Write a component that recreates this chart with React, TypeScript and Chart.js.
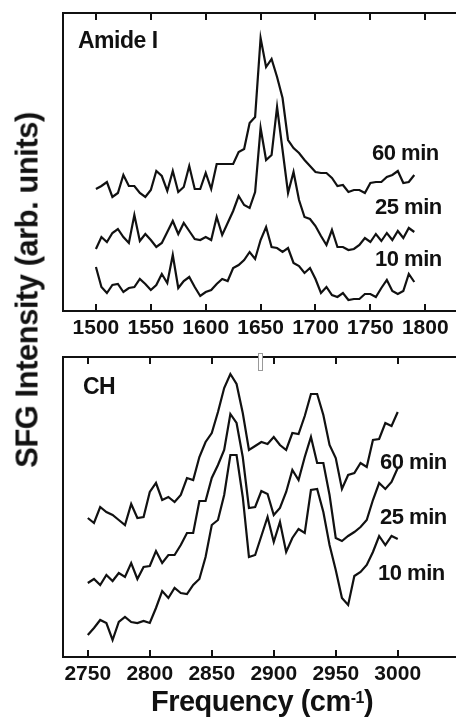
import React, { useEffect, useRef } from "react";
import { Chart, registerables } from "chart.js";

Chart.register(...registerables);

// ---------- data ----------
const AMIDE_FREQ = [
  1500, 1505, 1510, 1515, 1520, 1525, 1530, 1535, 1540, 1545,
  1550, 1555, 1560, 1565, 1570, 1575, 1580, 1585, 1590, 1595,
  1600, 1605, 1610, 1615, 1620, 1625, 1630, 1635, 1640, 1645,
  1650, 1655, 1660, 1665, 1670, 1675, 1680, 1685, 1690, 1695,
  1700, 1705, 1710, 1715, 1720, 1725, 1730, 1735, 1740, 1745,
  1750, 1755, 1760, 1765, 1770, 1775, 1780, 1785, 1790,
];
const AMIDE_60 = [
  122, 125, 129, 114, 118, 136, 125, 125, 118, 114,
  121, 140, 135, 120, 140, 119, 124, 145, 122, 122,
  138, 122, 147, 147, 147, 147, 159, 162, 188, 194,
  273, 244, 252, 234, 213, 171, 163, 158, 151, 145,
  139, 138, 138, 133, 125, 126, 119, 121, 121, 118,
  128, 129, 129, 134, 136, 140, 128, 129, 136,
];
const AMIDE_25 = [
  62, 74, 69, 78, 82, 74, 68, 96, 70, 77,
  71, 64, 68, 79, 90, 77, 88, 80, 72, 71,
  74, 71, 94, 76, 88, 100, 115, 106, 103, 119,
  183, 151, 156, 204, 161, 118, 139, 111, 94, 92,
  85, 75, 66, 81, 64, 64, 61, 62, 66, 73,
  69, 77, 70, 78, 71, 80, 73, 83, 79,
];
const AMIDE_10 = [
  44, 24, 18, 26, 27, 19, 23, 24, 32, 27,
  21, 26, 37, 28, 56, 23, 30, 34, 24, 15,
  19, 21, 27, 32, 30, 43, 46, 51, 59, 52,
  71, 84, 64, 63, 59, 63, 48, 45, 38, 43,
  32, 18, 24, 16, 14, 18, 11, 12, 12, 17,
  17, 14, 23, 31, 20, 17, 20, 37, 29,
];

const CH_FREQ = [
  2750, 2755, 2760, 2765, 2770, 2775, 2780, 2785, 2790, 2795,
  2800, 2805, 2810, 2815, 2820, 2825, 2830, 2835, 2840, 2845,
  2850, 2855, 2860, 2865, 2870, 2875, 2880, 2885, 2890, 2895,
  2900, 2905, 2910, 2915, 2920, 2925, 2930, 2935, 2940, 2945,
  2950, 2955, 2960, 2965, 2970, 2975, 2980, 2985, 2990, 2995,
  3000,
];
const CH_60 = [
  139, 134, 150, 145, 142, 137, 132, 153, 139, 140,
  165, 174, 157, 160, 155, 162, 179, 177, 200, 215,
  224, 245, 269, 283, 273, 244, 207, 211, 215, 213,
  220, 212, 207, 224, 223, 241, 263, 263, 242, 212,
  199, 168, 182, 184, 194, 190, 217, 218, 234, 231,
  245,
];
const CH_25 = [
  74, 78, 72, 82, 76, 84, 80, 94, 78, 90,
  91, 106, 94, 102, 102, 112, 124, 124, 156, 156,
  179, 192, 207, 243, 234, 200, 149, 150, 166, 163,
  142, 149, 165, 187, 177, 200, 220, 194, 194, 162,
  119, 116, 121, 125, 130, 137, 157, 174, 168, 175,
  189,
];
const CH_10 = [
  22, 29, 37, 34, 17, 35, 40, 35, 34, 36,
  34, 49, 66, 59, 69, 64, 63, 72, 78, 100,
  132, 137, 162, 202, 202, 160, 100, 102, 121, 140,
  115, 135, 105, 119, 128, 124, 167, 168, 145, 112,
  87, 59, 52, 81, 85, 92, 105, 121, 112, 121,
  118,
];

const AMIDE_TICKS = [1500, 1550, 1600, 1650, 1700, 1750, 1800];
const CH_TICKS = [2750, 2800, 2850, 2900, 2950, 3000];
const SERIES_LABELS = ["60 min", "25 min", "10 min"];

// ---------- styling ----------
const FONT = "'Liberation Sans', Arial, Helvetica, sans-serif";
const INK = "#111";

const framePlugin = {
  id: "frame",
  afterDatasetsDraw(chart: any) {
    const { ctx, chartArea: a, scales } = chart;
    const x = scales.x;
    ctx.save();
    ctx.strokeStyle = INK;
    ctx.lineWidth = 2;
    ctx.beginPath();
    ctx.moveTo(a.left - 1, a.top);
    ctx.lineTo(a.right, a.top);
    x.ticks.forEach((t: any) => {
      const px = Math.round(x.getPixelForValue(t.value));
      ctx.moveTo(px, a.bottom);
      ctx.lineTo(px, a.bottom - 7);
      ctx.moveTo(px, a.top);
      ctx.lineTo(px, a.top + 7);
    });
    ctx.stroke();
    ctx.restore();
  },
};

function makeConfig(
  freq: number[],
  series: number[][],
  ticks: number[],
  xmin: number,
  xmax: number,
  ymax: number,
  padTop: number,
  axisH: number
): any {
  return {
    type: "line",
    data: {
      datasets: series.map((s, i) => ({
        label: SERIES_LABELS[i],
        data: s.map((v, j) => ({ x: freq[j], y: v })),
        borderColor: INK,
        borderWidth: 2.2,
        pointRadius: 0,
        fill: false,
        tension: 0,
      })),
    },
    options: {
      animation: false,
      responsive: false,
      devicePixelRatio: 1,
      layout: { padding: { top: padTop, left: 0, right: 0, bottom: 0 } },
      plugins: { legend: { display: false }, tooltip: { enabled: false } },
      scales: {
        x: {
          type: "linear",
          min: xmin,
          max: xmax,
          afterBuildTicks: (s: any) => {
            s.ticks = ticks.map((v) => ({ value: v }));
          },
          afterFit: (s: any) => {
            s.height = axisH;
          },
          grid: { drawOnChartArea: false, drawTicks: false },
          border: { display: true, color: INK, width: 2 },
          ticks: {
            font: { family: FONT, size: 21, weight: "bold" },
            color: INK,
            padding: 5,
            maxRotation: 0,
            autoSkip: false,
            callback: (v: any) => String(v),
          },
        },
        y: {
          min: 0,
          max: ymax,
          afterFit: (s: any) => {
            s.width = 63;
          },
          grid: { drawOnChartArea: false, drawTicks: false },
          border: { display: true, color: INK, width: 2 },
          ticks: { display: false },
        },
      },
    },
    plugins: [framePlugin],
  };
}

function Panel(props: { top: number; height: number; config: () => any }) {
  const ref = useRef<HTMLCanvasElement>(null);
  useEffect(() => {
    if (!ref.current) return;
    const chart = new Chart(ref.current, props.config());
    return () => chart.destroy();
  }, []);
  return (
    <canvas
      ref={ref}
      width={456}
      height={props.height}
      style={{ position: "absolute", left: 0, top: props.top, width: 456, height: props.height, display: "block" }}
    />
  );
}

function Label(props: { left: number; top: number; size: number; children: React.ReactNode }) {
  return (
    <div
      style={{
        position: "absolute",
        left: props.left,
        top: props.top,
        fontFamily: FONT,
        fontWeight: "bold",
        fontSize: props.size,
        lineHeight: 1,
        color: INK,
        whiteSpace: "nowrap",
        letterSpacing: "-0.5px",
      }}
    >
      {props.children}
    </div>
  );
}

export default function App() {
  return (
    <div style={{ position: "absolute", left: 0, top: 0, width: 456, height: 717, background: "#fff", overflow: "hidden" }}>
      <Panel
        top={0}
        height={345}
        config={() => makeConfig(AMIDE_FREQ, [AMIDE_60, AMIDE_25, AMIDE_10], AMIDE_TICKS, 1470, 1828, 298, 13, 34)}
      />
      <Panel
        top={340}
        height={377}
        config={() => makeConfig(CH_FREQ, [CH_60, CH_25, CH_10], CH_TICKS, 2730, 3047, 300, 17, 60)}
      />
      <Label left={78} top={29} size={23}>Amide I</Label>
      <Label left={372} top={142} size={22}>{SERIES_LABELS[0]}</Label>
      <Label left={375} top={196} size={22}>{SERIES_LABELS[1]}</Label>
      <Label left={375} top={248} size={22}>{SERIES_LABELS[2]}</Label>
      <Label left={83} top={375} size={23}>CH</Label>
      <Label left={380} top={451} size={22}>{SERIES_LABELS[0]}</Label>
      <Label left={380} top={506} size={22}>{SERIES_LABELS[1]}</Label>
      <Label left={378} top={562} size={22}>{SERIES_LABELS[2]}</Label>
      <div
        style={{
          position: "absolute",
          left: 258,
          top: 353,
          width: 3,
          height: 16,
          border: "1px solid #999",
          background: "#fff",
        }}
      />
      <div
        style={{
          position: "absolute",
          left: 262,
          top: 687,
          transform: "translateX(-50%)",
          fontFamily: FONT,
          fontWeight: "bold",
          fontSize: 29,
          lineHeight: 1,
          color: INK,
          whiteSpace: "nowrap",
          letterSpacing: "-0.5px",
        }}
      >
        Frequency (cm
        <span style={{ position: "relative", top: "-0.5em", fontSize: "0.55em" }}>-1</span>)
      </div>
      <div
        style={{
          position: "absolute",
          left: 27,
          top: 290,
          transform: "translate(-50%, -50%) rotate(-90deg)",
          fontFamily: FONT,
          fontWeight: "bold",
          fontSize: 31,
          lineHeight: 1,
          color: INK,
          whiteSpace: "nowrap",
          letterSpacing: "-0.5px",
        }}
      >
        SFG Intensity (arb. units)
      </div>
    </div>
  );
}
